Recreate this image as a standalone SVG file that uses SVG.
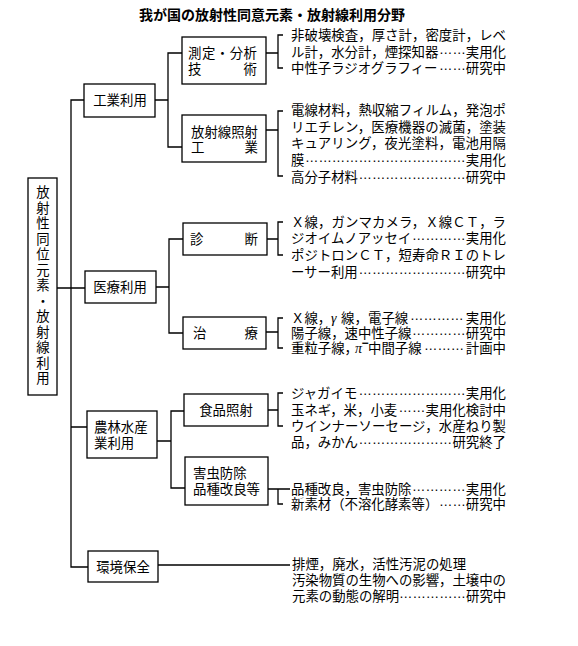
<svg xmlns="http://www.w3.org/2000/svg" width="578" height="646" viewBox="0 0 578 646">
<style>
.box{fill:#fff;stroke:#000;stroke-width:1.3}
.ln{fill:none;stroke:#000;stroke-width:1.3}
text{font-family:"Noto Sans CJK JP","Noto Sans CJK SC",sans-serif;font-size:13.4px;fill:#000}
.t{font-size:14px;font-weight:bold}
.c{text-anchor:middle}
.d{font-family:"Liberation Sans",Arial,sans-serif;font-size:13.4px}
.g{font-family:"Liberation Serif",serif;font-style:italic;font-size:14px}
.m{font-family:"Liberation Sans",Arial,sans-serif;font-size:12px;font-weight:bold}
</style>
<rect width="578" height="646" fill="#fff"/>
<text class="t c" x="272" y="20">我が国の放射性同意元素・放射線利用分野</text>

<g id="connectors">
<path class="ln" d="M57,288H85 M84,100H71V567H88 M71,427H87"/>
<path class="ln" d="M155,100H168 M182,53H168V147H182"/>
<path class="ln" d="M156,287H169 M183,239H169V333H183"/>
<path class="ln" d="M157,441H171 M184,411H171V488H185"/>
<path class="ln" d="M158,565H290"/>
<path class="ln" d="M266,53H278 M283,35H278V68H283"/>
<path class="ln" d="M266,130H278 M283,111H278V176H283"/>
<path class="ln" d="M267,239H278 M283,222H278V255H283"/>
<path class="ln" d="M266,332H278 M283,318H278V348H283"/>
<path class="ln" d="M268,410H278 M283,393H278V426H283"/>
<path class="ln" d="M268,489H290 M278,489V504H283"/>
</g>

<g id="root">
<rect class="box" x="28" y="178" width="29" height="217"/>
<text class="c" x="43" y="181.5"><tspan x="43" dy="15.5">放</tspan><tspan x="43" dy="15.5">射</tspan><tspan x="43" dy="15.5">性</tspan><tspan x="43" dy="15.5">同</tspan><tspan x="43" dy="15.5">位</tspan><tspan x="43" dy="15.5">元</tspan><tspan x="43" dy="15.5">素</tspan><tspan x="43" dy="15.5">・</tspan><tspan x="43" dy="15.5">放</tspan><tspan x="43" dy="15.5">射</tspan><tspan x="43" dy="15.5">線</tspan><tspan x="43" dy="15.5">利</tspan><tspan x="43" dy="15.5">用</tspan></text>
</g>

<g id="n-kogyo">
<rect class="box" x="84" y="84" width="71" height="33"/>
<text class="c" x="120" y="105">工業利用</text>
</g>
<g id="n-sokutei">
<rect class="box" x="182" y="37" width="84" height="47"/>
<text x="188" y="58" textLength="69" lengthAdjust="spacing">測定・分析</text>
<text x="188" y="74" textLength="69" lengthAdjust="spacing">技術</text>
</g>
<g id="n-shosha">
<rect class="box" x="182" y="115" width="84" height="47"/>
<text x="191" y="137" textLength="67" lengthAdjust="spacing">放射線照射</text>
<text x="191" y="152" textLength="67" lengthAdjust="spacing">工業</text>
</g>
<g id="n-iryo">
<rect class="box" x="85" y="271" width="71" height="32"/>
<text class="c" x="120" y="292">医療利用</text>
</g>
<g id="n-shindan">
<rect class="box" x="183" y="223" width="84" height="32"/>
<text x="190" y="244" textLength="68" lengthAdjust="spacing">診断</text>
</g>
<g id="n-chiryo">
<rect class="box" x="183" y="317" width="83" height="32"/>
<text x="193" y="338" textLength="65" lengthAdjust="spacing">治療</text>
</g>
<g id="n-norin">
<rect class="box" x="87" y="411" width="70" height="47"/>
<text x="94" y="432">農林水産</text>
<text x="94" y="448">業利用</text>
</g>
<g id="n-shokuhin">
<rect class="box" x="184" y="394" width="84" height="32"/>
<text class="c" x="226" y="415">食品照射</text>
</g>
<g id="n-gaichu">
<rect class="box" x="185" y="457" width="83" height="48"/>
<text x="193" y="478">害虫防除</text>
<text x="193" y="494">品種改良等</text>
</g>
<g id="n-kankyo">
<rect class="box" x="88" y="551" width="70" height="31"/>
<text class="c" x="123" y="572">環境保全</text>
</g>

<g id="list-sokutei">
<text x="291" y="40" textLength="215" lengthAdjust="spacing">非破壊検査，厚さ計，密度計，レベ</text>
<text y="57"><tspan x="291">ル計，水分計，煙探知器</tspan><tspan class="d" x="439" dy="-3">&#x2026;&#x2026;</tspan><tspan x="465.8" dy="3">実用化</tspan></text>
<text y="73"><tspan x="291">中性子ラジオグラフィー</tspan><tspan class="d" x="439" dy="-3">&#x2026;&#x2026;</tspan><tspan x="465.8" dy="3">研究中</tspan></text>
</g>
<g id="list-shosha">
<text x="291" y="115" textLength="215" lengthAdjust="spacing">電線材料，熱収縮フィルム，発泡ポ</text>
<text x="291" y="132" textLength="215" lengthAdjust="spacing">リエチレン，医療機器の滅菌，塗装</text>
<text x="291" y="148" textLength="215" lengthAdjust="spacing">キュアリング，夜光塗料，電池用隔</text>
<text y="165"><tspan x="291">膜</tspan><tspan class="d" x="305" dy="-3">&#x2026;&#x2026;&#x2026;&#x2026;&#x2026;&#x2026;&#x2026;&#x2026;&#x2026;&#x2026;&#x2026;&#x2026;</tspan><tspan x="465.8" dy="3">実用化</tspan></text>
<text y="182"><tspan x="291">高分子材料</tspan><tspan class="d" x="358.5" dy="-3">&#x2026;&#x2026;&#x2026;&#x2026;&#x2026;&#x2026;&#x2026;&#x2026;</tspan><tspan x="465.8" dy="3">研究中</tspan></text>
</g>
<g id="list-shindan">
<text x="291" y="227" textLength="215" lengthAdjust="spacing">Ｘ線，ガンマカメラ，Ｘ線ＣＴ，ラ</text>
<text y="243"><tspan x="291">ジオイムノアッセイ</tspan><tspan class="d" x="412" dy="-3">&#x2026;&#x2026;&#x2026;&#x2026;</tspan><tspan x="465.8" dy="3">実用化</tspan></text>
<text x="291" y="260" textLength="215" lengthAdjust="spacing">ポジトロンＣＴ，短寿命ＲＩのトレ</text>
<text y="277"><tspan x="291">ーサー利用</tspan><tspan class="d" x="358.5" dy="-3">&#x2026;&#x2026;&#x2026;&#x2026;&#x2026;&#x2026;&#x2026;&#x2026;</tspan><tspan x="465.8" dy="3">研究中</tspan></text>
</g>
<g id="list-chiryo">
<text y="323"><tspan x="291">Ｘ線，</tspan><tspan class="g" x="331">γ</tspan><tspan x="341">線，</tspan><tspan x="368">電子線</tspan><tspan class="d" x="410" dy="-3">&#x2026;&#x2026;&#x2026;&#x2026;</tspan><tspan x="465.8" dy="3">実用化</tspan></text>
<text y="338"><tspan x="291">陽子線，速中性子線</tspan><tspan class="d" x="412" dy="-3">&#x2026;&#x2026;&#x2026;&#x2026;</tspan><tspan x="465.8" dy="3">研究中</tspan></text>
<text y="353"><tspan x="291">重粒子線，</tspan><tspan class="g" x="355">π</tspan><tspan class="m" x="361.5" dy="-6">−</tspan><tspan x="368" dy="6">中間子線</tspan><tspan class="d" x="424" dy="-3">&#x2026;&#x2026;&#x2026;</tspan><tspan x="465.8" dy="3">計画中</tspan></text>
</g>
<g id="list-shokuhin">
<text y="398"><tspan x="291">ジャガイモ</tspan><tspan class="d" x="358.5" dy="-3">&#x2026;&#x2026;&#x2026;&#x2026;&#x2026;&#x2026;&#x2026;&#x2026;</tspan><tspan x="465.8" dy="3">実用化</tspan></text>
<text y="415"><tspan x="291">玉ネギ，米，小麦</tspan><tspan class="d" x="398.5" dy="-3">&#x2026;&#x2026;</tspan><tspan x="425.6" dy="3">実用化検討中</tspan></text>
<text x="291" y="431" textLength="215" lengthAdjust="spacing">ウインナーソーセージ，水産ねり製</text>
<text y="447"><tspan x="291">品，みかん</tspan><tspan class="d" x="358.5" dy="-3">&#x2026;&#x2026;&#x2026;&#x2026;&#x2026;&#x2026;&#x2026;</tspan><tspan x="452.4" dy="3">研究終了</tspan></text>
</g>
<g id="list-gaichu">
<text y="494"><tspan x="291">品種改良，害虫防除</tspan><tspan class="d" x="412" dy="-3">&#x2026;&#x2026;&#x2026;&#x2026;</tspan><tspan x="465.8" dy="3">実用化</tspan></text>
<text y="509"><tspan x="291">新素材（不溶化酵素等）</tspan><tspan class="d" x="439" dy="-3">&#x2026;&#x2026;</tspan><tspan x="465.8" dy="3">研究中</tspan></text>
</g>
<g id="list-kankyo">
<text x="292" y="569">排煙，廃水，活性汚泥の処理</text>
<text x="292" y="585" textLength="214" lengthAdjust="spacing">汚染物質の生物への影響，土壌中の</text>
<text y="601"><tspan x="292">元素の動態の解明</tspan><tspan class="d" x="399" dy="-3">&#x2026;&#x2026;&#x2026;&#x2026;&#x2026;</tspan><tspan x="466" dy="3">研究中</tspan></text>
</g>
</svg>
